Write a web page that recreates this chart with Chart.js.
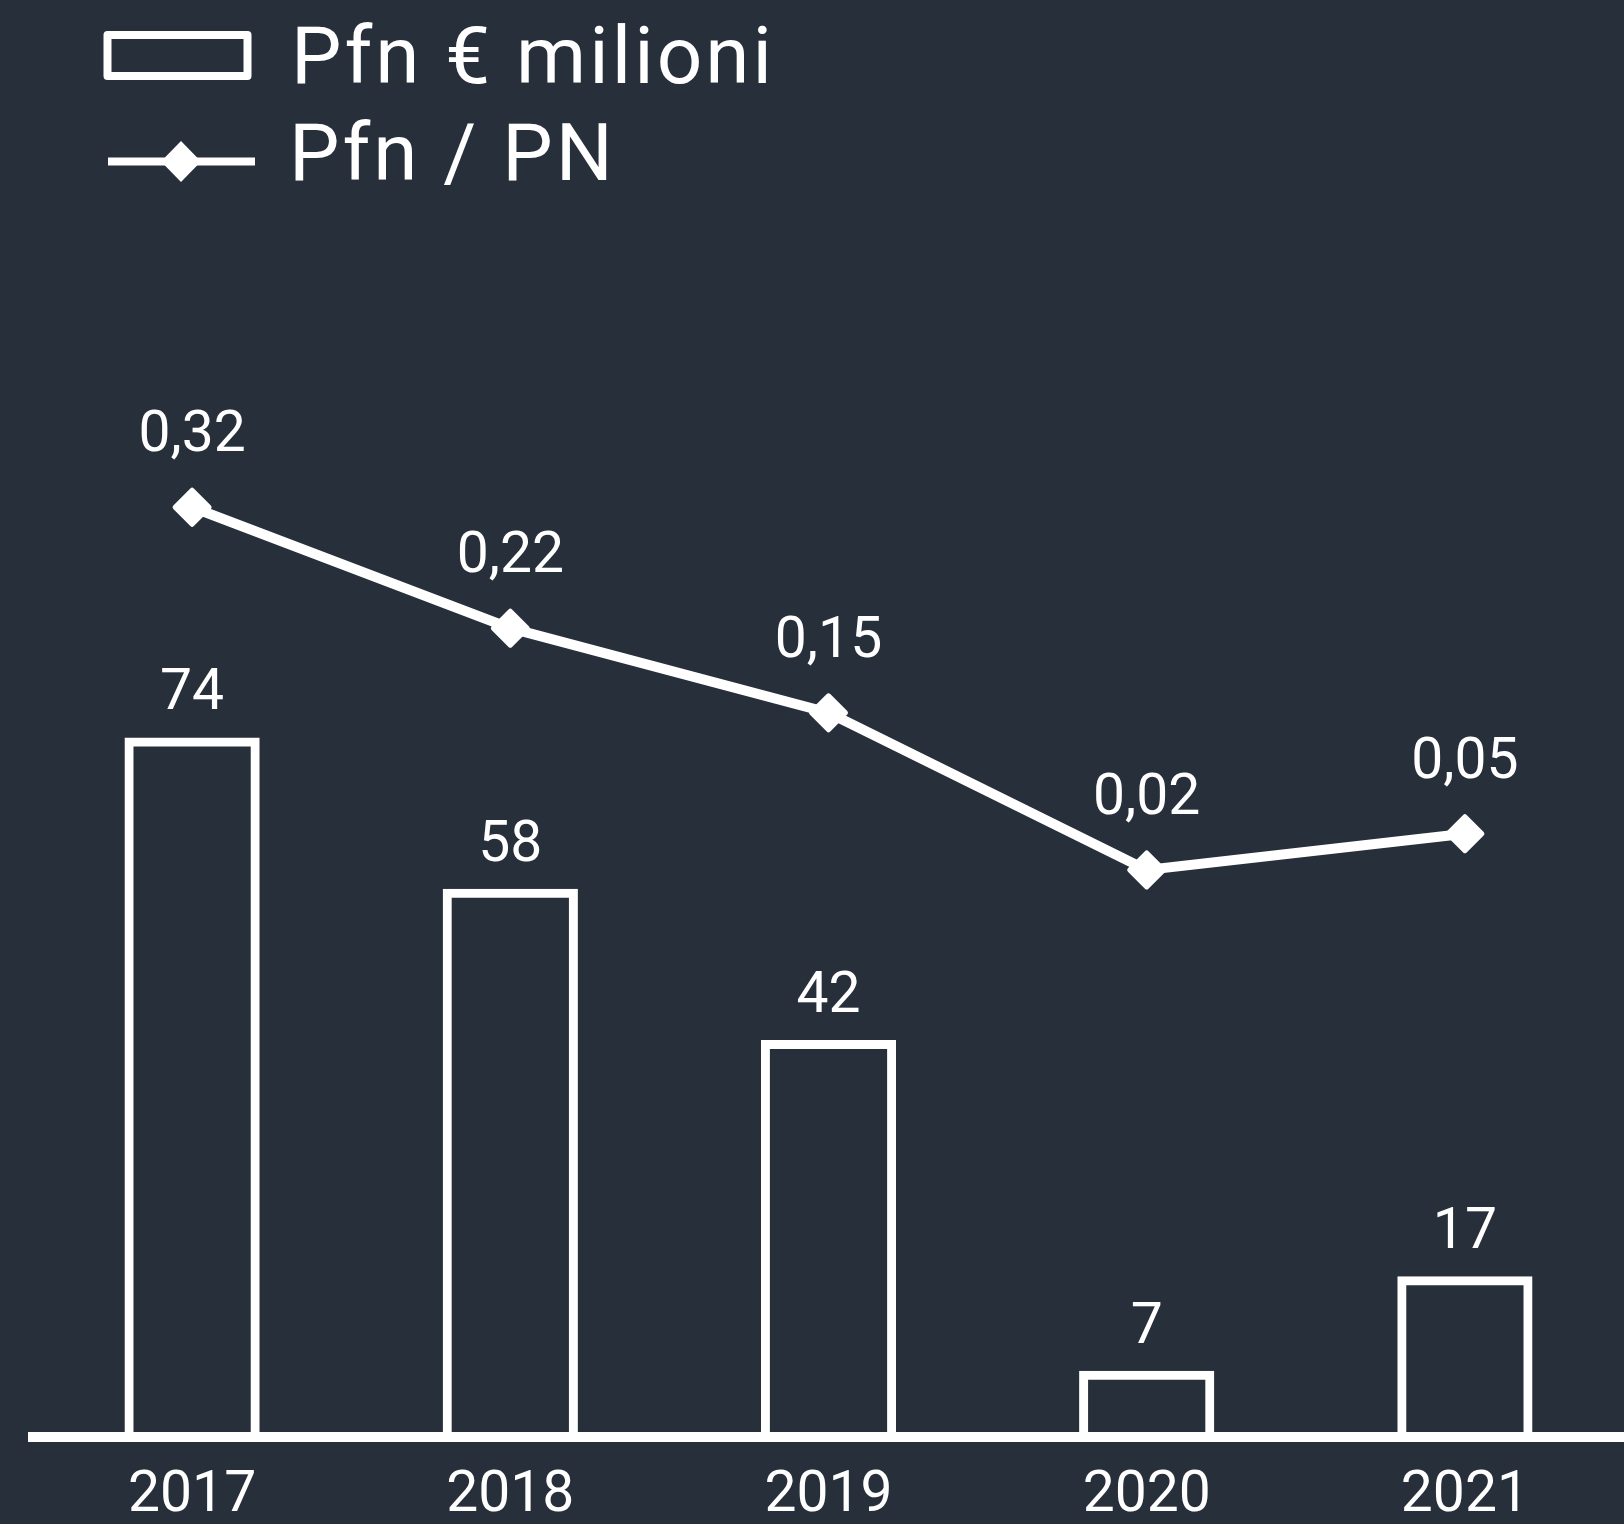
<!DOCTYPE html>
<html>
<head>
<meta charset="utf-8">
<script src="https://cdn.jsdelivr.net/npm/chart.js@4.4.1/dist/chart.umd.min.js"></script>
<style>
  html, body { margin: 0; padding: 0; background: #262F3A; }
  #wrap { width: 1624px; height: 1524px; }
</style>
</head>
<body>
<div id="wrap"><canvas id="c" width="1624" height="1524"></canvas></div>
<script>
const categories = ['2017', '2018', '2019', '2020', '2021'];
const barSeriesName = 'Pfn € milioni';
const lineSeriesName = 'Pfn / PN';
const pfnMilioni = [74, 58, 42, 7, 17];
const pfnSuPn = [0.32, 0.22, 0.15, 0.02, 0.05];

const BG = '#262F3A';
const FG = '#FFFFFF';
const FONT = 'Roboto';

const bgPlugin = {
  id: 'bg',
  beforeDraw(chart) {
    const ctx = chart.ctx;
    ctx.save();
    ctx.fillStyle = BG;
    ctx.fillRect(0, 0, chart.width, chart.height);
    ctx.restore();
  },
  beforeDatasetDraw(chart) {
    chart.ctx.lineJoin = 'round';
  }
};

const labelPlugin = {
  id: 'valueLabels',
  afterDatasetsDraw(chart) {
    const ctx = chart.ctx;
    ctx.save();
    ctx.fillStyle = FG;
    ctx.font = '57px ' + FONT;
    ctx.textAlign = 'center';
    ctx.textBaseline = 'alphabetic';
    chart.data.datasets.forEach((ds, di) => {
      const meta = chart.getDatasetMeta(di);
      meta.data.forEach((el, i) => {
        const v = ds.data[i];
        if (ds.type === 'bar') {
          ctx.fillText(String(v), el.x, el.y - 28);
        } else {
          ctx.fillText(v.toFixed(2).replace('.', ','), el.x, el.y - 56);
        }
      });
    });
    ctx.restore();
  }
};

const legendPlugin = {
  id: 'customLegend',
  afterDraw(chart) {
    const ctx = chart.ctx;
    const names = chart.data.datasets.map(d => d.label);
    ctx.save();
    ctx.strokeStyle = FG;
    ctx.fillStyle = FG;
    // bar item
    ctx.lineWidth = 8;
    ctx.strokeRect(107.5, 35, 140, 41);
    // line item
    ctx.beginPath();
    ctx.moveTo(108, 161.5);
    ctx.lineTo(255, 161.5);
    ctx.stroke();
    ctx.beginPath();
    ctx.moveTo(181, 141);
    ctx.lineTo(201, 161.5);
    ctx.lineTo(181, 182);
    ctx.lineTo(161, 161.5);
    ctx.closePath();
    ctx.fill();
    ctx.font = '80px ' + FONT;
    ctx.textAlign = 'left';
    ctx.textBaseline = 'alphabetic';
    if ('letterSpacing' in ctx) ctx.letterSpacing = '3px';
    ctx.fillText(names[1], 291, 83);
    ctx.fillText(names[0], 289, 180);
    ctx.restore();
  }
};

new Chart(document.getElementById('c'), {
  data: {
    labels: categories,
    datasets: [
      {
        type: 'line',
        label: lineSeriesName,
        data: pfnSuPn,
        yAxisID: 'y1',
        order: 0,
        borderColor: FG,
        borderWidth: 10,
        backgroundColor: FG,
        pointStyle: 'rectRot',
        pointRadius: 17,
        pointBorderWidth: 5,
        pointBackgroundColor: FG,
        pointBorderColor: FG,
        tension: 0
      },
      {
        type: 'bar',
        label: barSeriesName,
        data: pfnMilioni,
        yAxisID: 'y',
        order: 1,
        backgroundColor: 'rgba(0,0,0,0)',
        borderColor: FG,
        borderWidth: 9,
        borderSkipped: 'bottom',
        barPercentage: 0.425,
        categoryPercentage: 1
      }
    ]
  },
  options: {
    responsive: false,
    animation: false,
    layout: { autoPadding: false, padding: { left: 33, right: 0, top: 20, bottom: 0 } },
    plugins: {
      legend: { display: false },
      tooltip: { enabled: false },
      title: { display: false }
    },
    scales: {
      x: {
        offset: true,
        grid: { display: false, drawTicks: false },
        border: { display: true, color: FG, width: 10 },
        ticks: {
          color: FG,
          font: { family: FONT, size: 57 },
          padding: 26,
          maxRotation: 0
        },
        afterFit(scale) {
          scale.height = 87;
          scale.paddingLeft = 0;
          scale.paddingRight = 0;
        }
      },
      y: {
        display: false,
        min: 0,
        max: 149.9
      },
      y1: {
        display: false,
        position: 'right',
        min: -0.449,
        max: 0.723
      }
    }
  },
  plugins: [bgPlugin, labelPlugin, legendPlugin]
});
</script>
</body>
</html>
